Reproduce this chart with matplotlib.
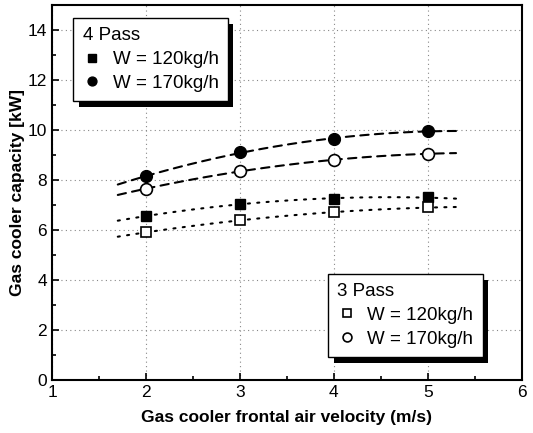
import numpy as np
import matplotlib
matplotlib.use('Agg')
import matplotlib.pyplot as plt
import matplotlib.patheffects as pe
from matplotlib.ticker import MultipleLocator

plt.rcParams['font.family'] = ['Liberation Sans', 'DejaVu Sans']

# air velocity (m/s)
velocity = np.array([2, 3, 4, 5])
# gas cooler capacity (kW)
p4_w120 = np.array([6.55, 7.05, 7.25, 7.3])
p4_w170 = np.array([8.15, 9.1, 9.65, 9.95])
p3_w120 = np.array([5.9, 6.4, 6.7, 6.9])
p3_w170 = np.array([7.65, 8.35, 8.8, 9.05])

fig = plt.figure(figsize=(5.33, 4.33), dpi=100)
ax = fig.add_axes([0.0976, 0.1224, 0.8814, 0.8661])

# fitted trend lines (quadratic fit of each series)
xfit = np.linspace(1.7, 5.3, 100)
for ys, ls in [(p4_w170, (0, (4, 3))), (p3_w170, (0, (4, 3))),
               (p4_w120, (0, (1, 3.5))), (p3_w120, (0, (1, 3.5)))]:
    c = np.polyfit(velocity, ys, 2)
    ax.plot(xfit, np.polyval(c, xfit), color='k', lw=1.5, linestyle=ls,
            dash_capstyle='round')

h1, = ax.plot(velocity, p4_w120, 's', color='k', ms=7, ls='none', label='W = 120kg/h')
h2, = ax.plot(velocity, p4_w170, 'o', color='k', ms=8.5, ls='none', label='W = 170kg/h')
h3, = ax.plot(velocity, p3_w120, 's', mfc='white', mec='k', mew=1.2, ms=7, ls='none', label='W = 120kg/h')
h4, = ax.plot(velocity, p3_w170, 'o', mfc='white', mec='k', mew=1.2, ms=8.5, ls='none', label='W = 170kg/h')

ax.set_xlim(1, 6)
ax.set_ylim(0, 15)
ax.set_xticks([1, 2, 3, 4, 5, 6])
ax.set_yticks([0, 2, 4, 6, 8, 10, 12, 14])
ax.xaxis.set_minor_locator(MultipleLocator(0.5))
ax.yaxis.set_minor_locator(MultipleLocator(1))
ax.tick_params(which='both', direction='in', labelsize=12.5, width=1.2)
ax.tick_params(which='major', length=5)
ax.tick_params(which='minor', length=3)
ax.grid(True, which='major', color='#888888', linestyle=(0, (1, 3)), lw=0.8)
for s in ax.spines.values():
    s.set_linewidth(1.5)

ax.set_xlabel('Gas cooler frontal air velocity (m/s)', fontsize=12.5, fontweight='bold', labelpad=7)
ax.set_ylabel('Gas cooler capacity [kW]', fontsize=12.5, fontweight='bold', labelpad=2)

def shadow_legend(handles, title, loc, anchor):
    leg = ax.legend(handles=handles, title=title, loc=loc, bbox_to_anchor=anchor,
                    fontsize=13.5, title_fontsize=13.5, frameon=True, fancybox=False,
                    framealpha=1.0, facecolor='white', borderaxespad=0,
                    edgecolor='k', handlelength=1.0, handletextpad=0.6,
                    borderpad=0.5, labelspacing=0.35, alignment='left',
                    markerscale=0.75)
    leg.get_frame().set_linewidth(1.0)
    leg.get_frame().set_path_effects([
        pe.SimplePatchShadow(offset=(4, -4), shadow_rgbFace='k', alpha=1.0),
        pe.Normal()])
    return leg

leg1 = shadow_legend([h1, h2], '4 Pass', 'upper left', (0.045, 0.965))
ax.add_artist(leg1)
leg2 = shadow_legend([h3, h4], '3 Pass', 'lower right', (0.917, 0.061))

fig.savefig('out.png', dpi=100)
